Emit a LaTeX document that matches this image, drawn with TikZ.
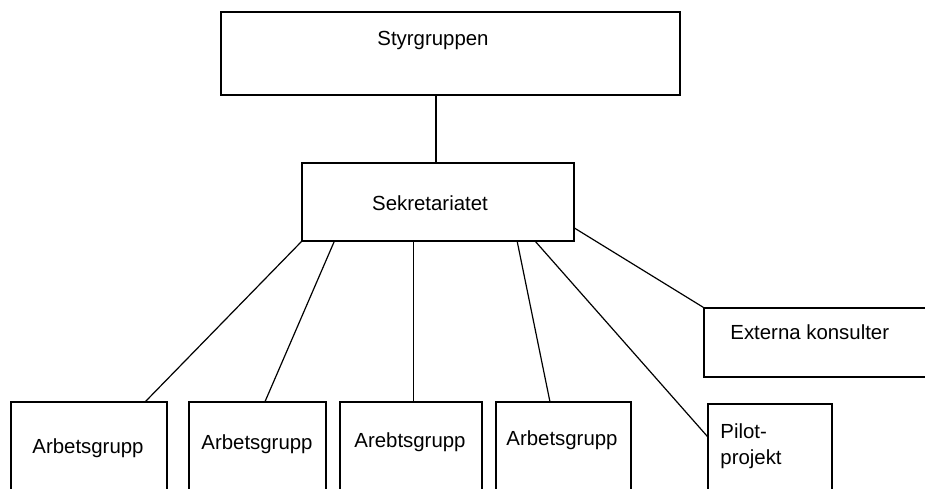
\documentclass[tikz,border=0pt]{standalone}
\usepackage{fontspec}
\setmainfont{Liberation Sans}
\usetikzlibrary{positioning}
\usetikzlibrary{calc}

\begin{document}
\begin{tikzpicture}[x=0.5pt, y=-0.5pt,
	kbox/.style={draw, rectangle, line width=0.6pt, inner sep=0pt},
	txt/.style={inner sep=0pt, font=\fontsize{10.2}{13}\selectfont},
	conn/.style={line width=0.6pt}]
	 % picture frame, same size as the reference
	 \clip (0,0) rectangle (925,488);
	 \fill[white] (0,0) rectangle (925,488);

	 % boxes (centre, then size in px/2)
	 \node[kbox, minimum width=229.5pt, minimum height=41.5pt] (styr) at (450.5,53.5) {};
	 \node[kbox, minimum width=136pt, minimum height=39pt] (sekr) at (438,202) {};
	 \node[kbox, minimum width=113pt, minimum height=34.5pt] (ext) at (817,342.5) {};
	 \node[kbox, minimum width=78pt, minimum height=49pt] (ag1) at (89,451) {};
	 \node[kbox, minimum width=68.5pt, minimum height=49pt] (ag2) at (257.5,451) {};
	 \node[kbox, minimum width=71pt, minimum height=49pt] (ag3) at (411,451) {};
	 \node[kbox, minimum width=67.5pt, minimum height=49pt] (ag4) at (563.5,451) {};
	 \node[kbox, minimum width=62pt, minimum height=48pt] (pilot) at (770,452) {};

	 % texts
	 \node[txt] (styr-t) at (433,40) {Styrgruppen};
	 \node[txt] (sekr-t) at (430,203) {Sekretariatet};
	 \node[txt, anchor=west] (ext-t) at (730,332) {Externa konsulter};
	 \node[txt] (ag1-t) at (88,448) {Arbetsgrupp};
	 \node[txt] (ag2-t) at (257,444) {Arbetsgrupp};
	 \node[txt] (ag3-t) at (410,442) {Arebtsgrupp};
	 \node[txt] (ag4-t) at (562,440) {Arbetsgrupp};
	 \node[txt, anchor=west, align=left] (pilot-t) at (720,446) {Pilot-\\projekt};

	 % connectors
	 \coordinate (s0) at ($(sekr.north west)!0.493!(sekr.north east)$);
	 \draw[conn] (s0 |- styr.south) -- (s0);
	 \draw[conn] (sekr.south west) -- ($(ag1.north west)!0.86!(ag1.north east)$);
	 \draw[conn] ($(sekr.south west)!0.12!(sekr.south east)$) -- ($(ag2.north west)!0.555!(ag2.north east)$);
	 \coordinate (s3) at ($(sekr.south west)!0.41!(sekr.south east)$);
	 \draw[conn] (s3) -- (s3 |- ag3.north);
	 \draw[conn] ($(sekr.south west)!0.79!(sekr.south east)$) -- ($(ag4.north west)!0.4!(ag4.north east)$);
	 \draw[conn] ($(sekr.south west)!0.857!(sekr.south east)$) -- ($(pilot.north west)!0.34!(pilot.south west)$);
	 \draw[conn] ($(sekr.north east)!0.83!(sekr.south east)$) -- (ext.north west);
\end{tikzpicture}
\end{document}
